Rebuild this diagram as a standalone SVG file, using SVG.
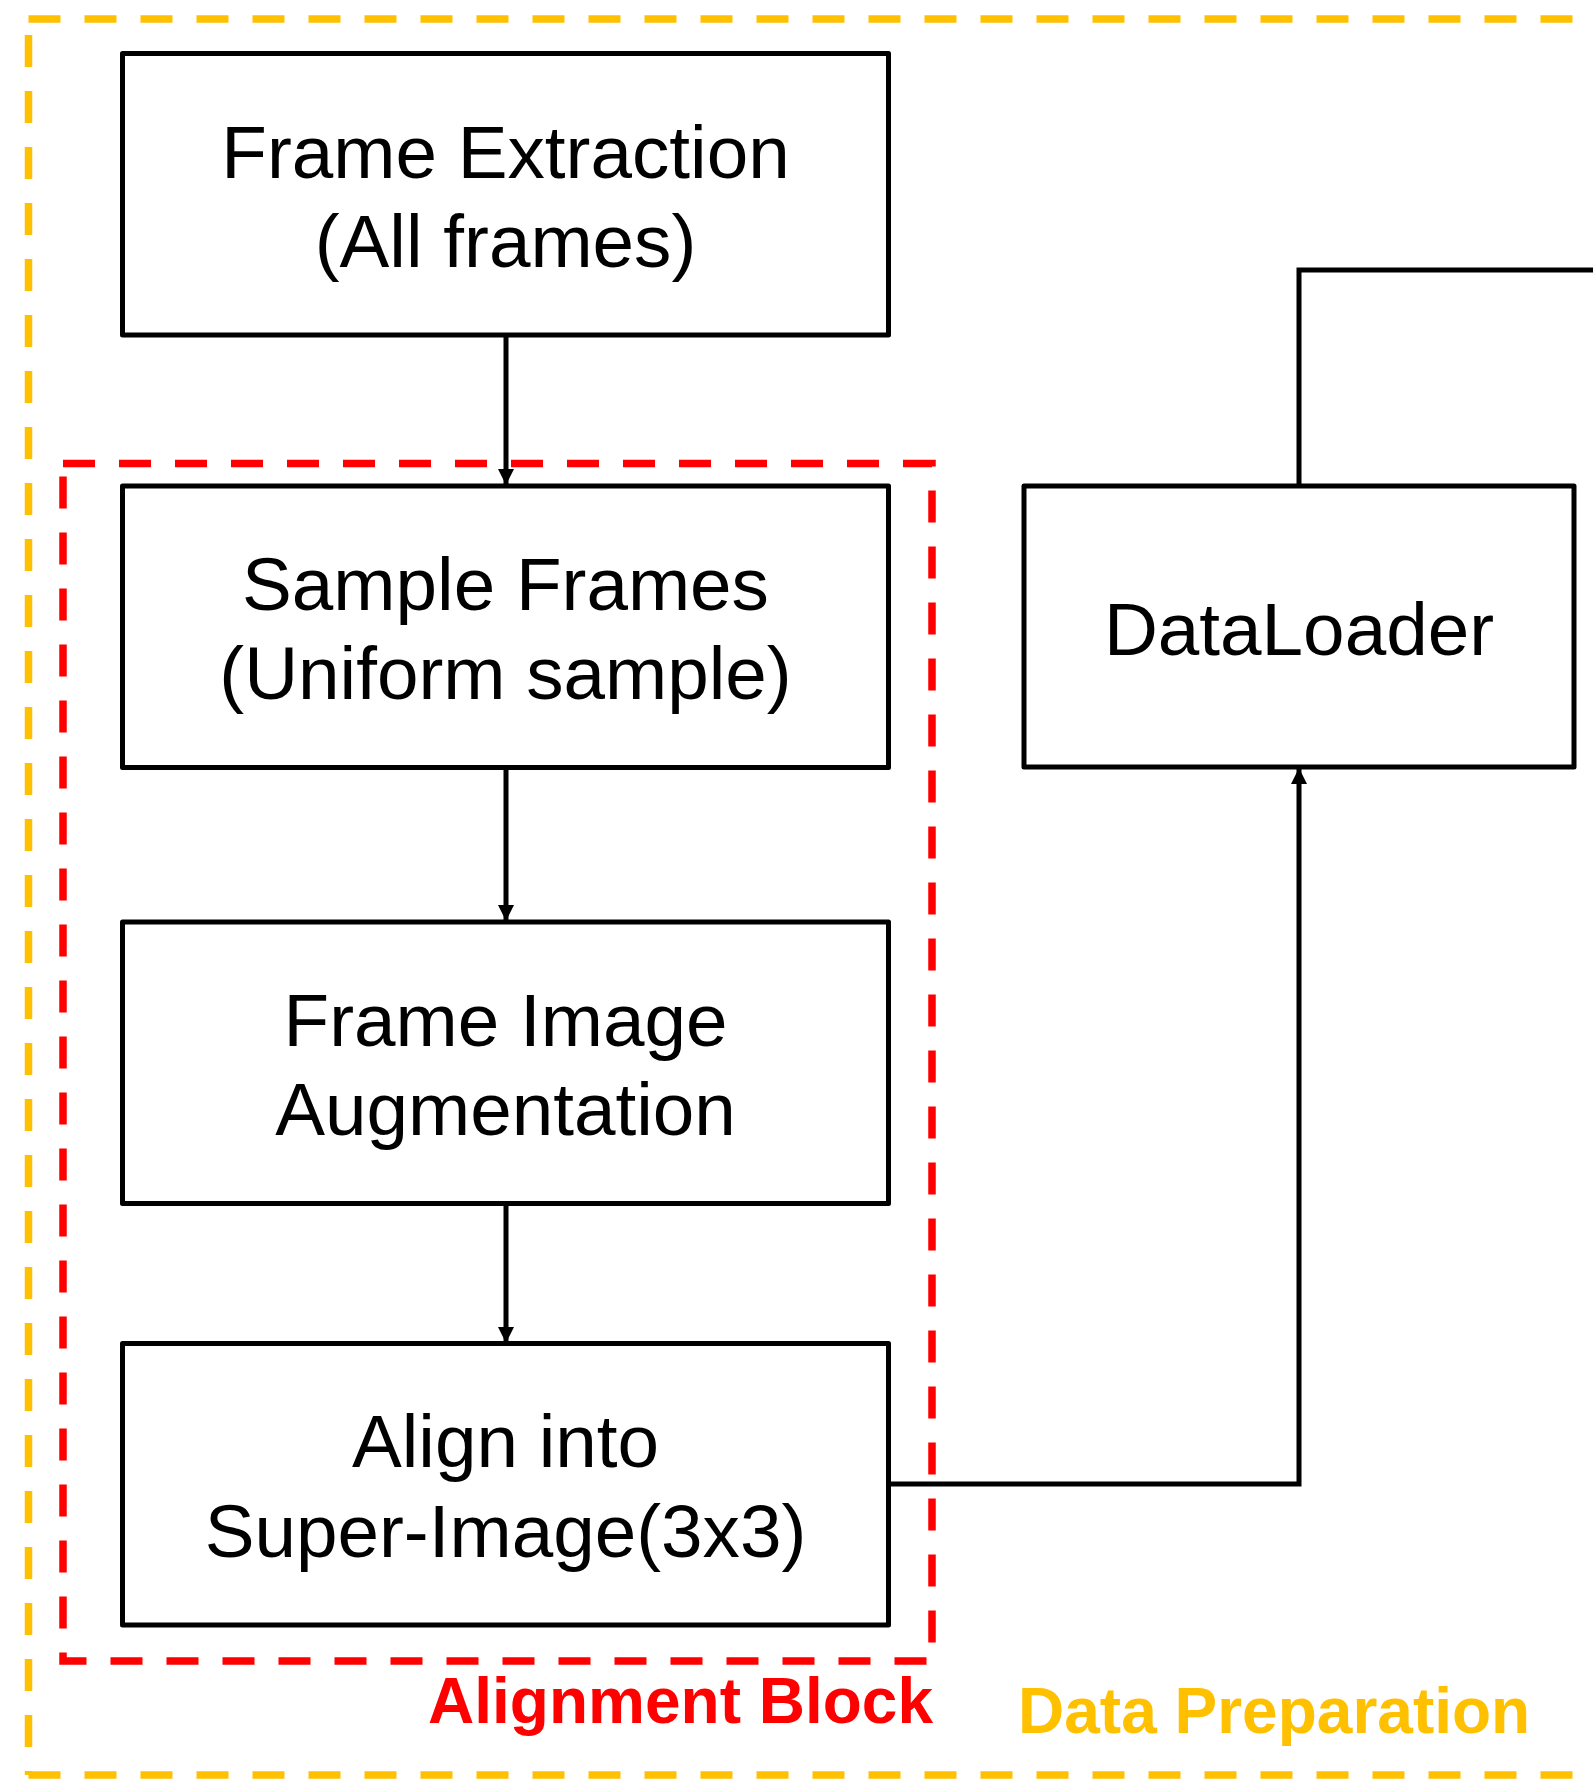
<svg xmlns="http://www.w3.org/2000/svg" width="1593" height="1779" viewBox="0 0 1593 1779">
<style>
.box{fill:#fff;stroke:#000;stroke-width:5;stroke-linejoin:round}
.t{font-family:"Liberation Sans",Arial,sans-serif;font-size:74.67px;fill:#000;text-anchor:middle}
.lbl{font-family:"Liberation Sans",Arial,sans-serif;font-size:64px;font-weight:bold}
.conn{fill:none;stroke:#000;stroke-width:5}
</style>
<defs>
<marker id="ah" markerUnits="userSpaceOnUse" markerWidth="18" markerHeight="16" refX="16" refY="8" orient="auto">
<path d="M0,0 L16,8 L0,16 Z" fill="#000"/>
</marker>
</defs>
<rect width="1593" height="1779" fill="#fff"/>
<g id="data-preparation">
<path d="M28.5,19 H1650 M28.5,35 V1775 M28.5,1775 H1650" fill="none" stroke="#FFC000" stroke-width="7.5" stroke-dasharray="32 24"/>
<text class="lbl" x="1018" y="1733" fill="#FFC000">Data Preparation</text>
</g>
<g id="alignment-block">
<path d="M63,463.5 H932 V1661 H63 Z" fill="none" stroke="#FF0000" stroke-width="7.5" stroke-dasharray="32 24"/>
<text class="lbl" x="933" y="1723" fill="#FF0000" text-anchor="end">Alignment Block</text>
</g>
<g id="connectors">
<line class="conn" x1="506" y1="335" x2="506" y2="485" marker-end="url(#ah)"/>
<line class="conn" x1="506" y1="767" x2="506" y2="921" marker-end="url(#ah)"/>
<line class="conn" x1="506" y1="1203" x2="506" y2="1343" marker-end="url(#ah)"/>
<path class="conn" d="M889,1484 H1299 V768" marker-end="url(#ah)"/>
<path class="conn" d="M1299,486 V270 H1600"/>
</g>
<g id="frame-extraction">
<rect class="box" x="122.5" y="53.5" width="766" height="281.5"/>
<text class="t" x="505.5" y="178.3">Frame Extraction</text>
<text class="t" x="505.5" y="266.7">(All frames)</text>
</g>
<g id="sample-frames">
<rect class="box" x="122.5" y="486" width="766" height="281.5"/>
<text class="t" x="505.5" y="609.7">Sample Frames</text>
<text class="t" x="505.5" y="698.5">(Uniform sample)</text>
</g>
<g id="frame-image-augmentation">
<rect class="box" x="122.5" y="922" width="766" height="281.5"/>
<text class="t" x="505.5" y="1046">Frame Image</text>
<text class="t" x="505.5" y="1135">Augmentation</text>
</g>
<g id="align-super-image">
<rect class="box" x="122.5" y="1343.5" width="766" height="281.5"/>
<text class="t" x="505.5" y="1467">Align into</text>
<text class="t" x="505.5" y="1556.5">Super-Image(3x3)</text>
</g>
<g id="dataloader">
<rect class="box" x="1024" y="486" width="550" height="281"/>
<text class="t" x="1299" y="654.6">DataLoader</text>
</g>
</svg>
